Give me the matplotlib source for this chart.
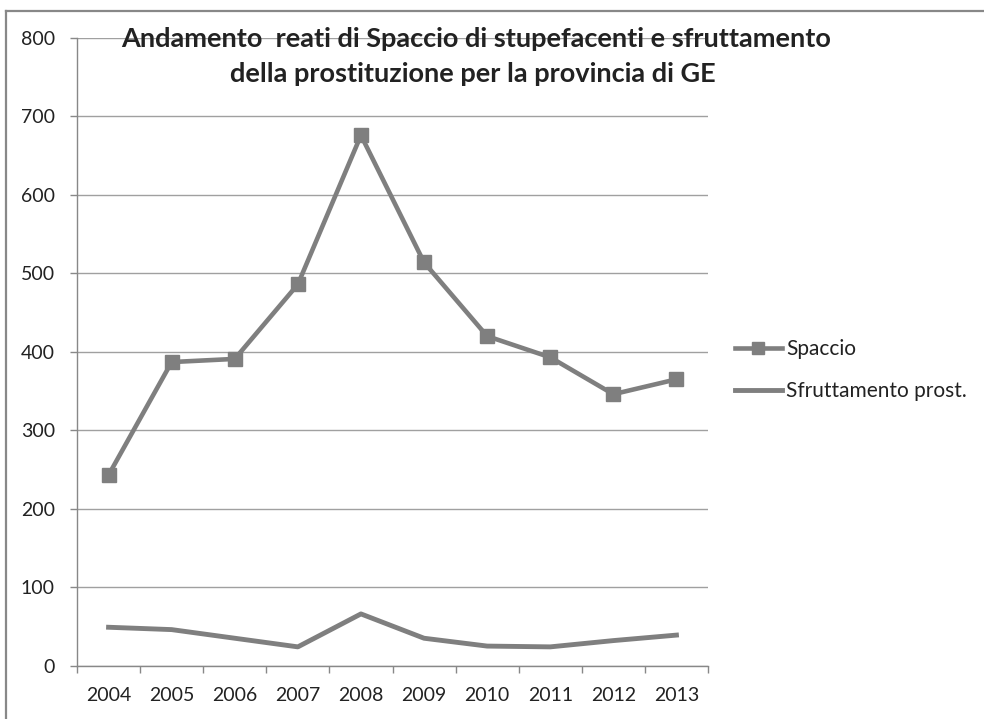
import matplotlib
matplotlib.use("Agg")
import matplotlib.pyplot as plt
from matplotlib.lines import Line2D

years = ["2004", "2005", "2006", "2007", "2008", "2009", "2010", "2011", "2012", "2013"]
spaccio = [243, 387, 391, 486, 676, 514, 420, 393, 346, 365]
sfruttamento = [49, 46, 35, 24, 66, 35, 25, 24, 32, 39]
yticks = [0, 100, 200, 300, 400, 500, 600, 700, 800]
title_lines = ["Andamento  reati di Spaccio di stupefacenti e sfruttamento",
               "della prostituzione per la provincia di GE"]
labels = ["Spaccio", "Sfruttamento prost."]

plt.rcParams['font.family'] = ['Lato', 'DejaVu Sans']
W, H = 984, 719
fig = plt.figure(figsize=(W / 100, H / 100), dpi=100)
fig.patch.set_facecolor("white")

# partial outer border (top and left edges, chart is cropped)
fig.add_artist(Line2D([6 / W, 1.0], [1 - 11 / H, 1 - 11 / H], transform=fig.transFigure,
                      color="#888888", linewidth=1.6))
fig.add_artist(Line2D([6 / W, 6 / W], [0.0, 1 - 11 / H], transform=fig.transFigure,
                      color="#888888", linewidth=1.6))

left, right, top, bottom = 77, 708, 38, 665.7
ax = fig.add_axes([left / W, 1 - bottom / H, (right - left) / W, (bottom - top) / H])
grey = "#7f7f7f"
x = list(range(len(years)))
ax.plot(x, spaccio, color=grey, lw=3.3, marker="s", markersize=9.5, markeredgecolor=grey,
        markerfacecolor=grey, solid_joinstyle="round", label=labels[0])
ax.plot(x, sfruttamento, color=grey, lw=3.5, solid_joinstyle="round", label=labels[1])

ax.set_xlim(-0.5, len(years) - 0.5)
ax.set_ylim(0, 800)
ax.set_yticks(yticks)
ax.set_yticklabels([str(v) for v in yticks])
ax.set_xticks(x)
ax.set_xticklabels(years)
ax.set_xticks([i - 0.5 for i in range(len(years) + 1)], minor=True)
ax.tick_params(axis="x", which="major", length=0, pad=15, labelsize=14, labelcolor="#222222")
ax.tick_params(axis="x", which="minor", length=5, color="#888888", width=1)
ax.tick_params(axis="y", length=5, color="#888888", width=1, pad=11, labelsize=14,
               labelcolor="#222222")
ax.grid(axis="y", color="#a0a0a0", linewidth=1)
ax.set_axisbelow(True)
for s in ["top", "right"]:
    ax.spines[s].set_visible(False)
for s in ["left", "bottom"]:
    ax.spines[s].set_color("#888888")
    ax.spines[s].set_linewidth(1)

fig.text(476 / W, 1 - 47 / H, title_lines[0], ha="center", va="baseline", fontsize=19.5,
         fontweight="bold", color="#222222")
fig.text(473 / W, 1 - 82 / H, title_lines[1], ha="center", va="baseline", fontsize=19.5,
         fontweight="bold", color="#222222")

handles = [Line2D([], [], color=grey, lw=3.3, marker="s", markersize=8.5),
           Line2D([], [], color=grey, lw=3.5)]
fig.legend(handles, labels, loc="center left", bbox_to_anchor=(735 / W, 1 - 370 / H),
           frameon=False, fontsize=15, handlelength=2.25, handletextpad=0.2, labelspacing=1.05,
           borderpad=0, borderaxespad=0, labelcolor="#222222")

fig.savefig("out.png", dpi=100, facecolor="white")
